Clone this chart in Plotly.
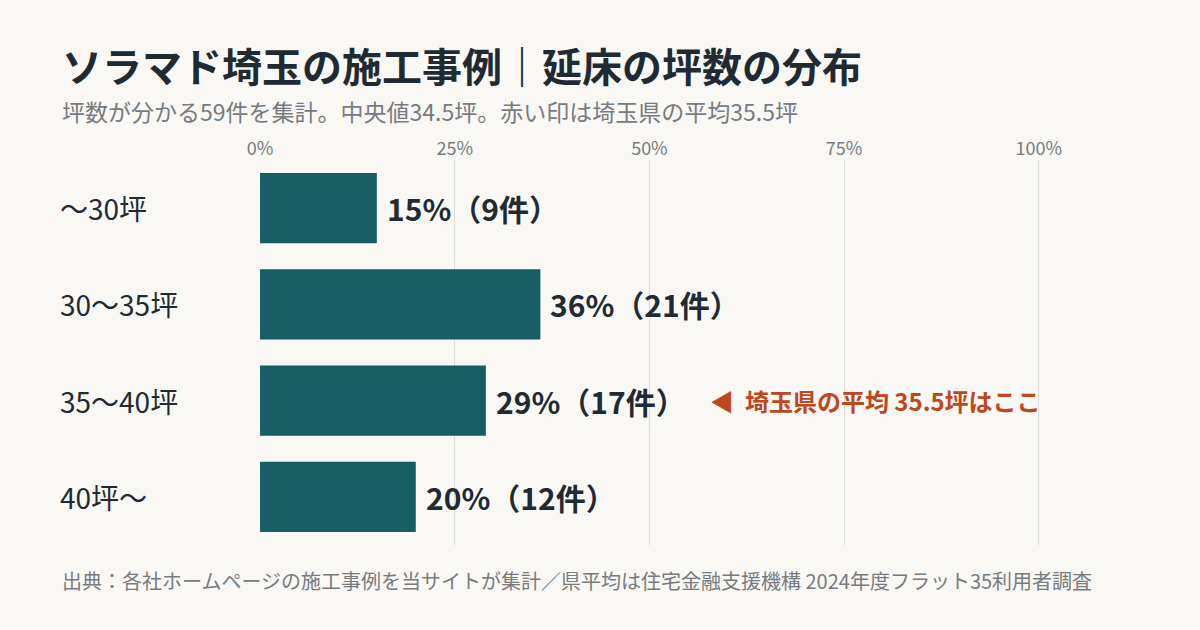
import plotly.graph_objects as go

categories = ["〜30坪", "30〜35坪", "35〜40坪", "40坪〜"]
shares = [15, 36, 29, 20]
counts = [9, 21, 17, 12]
tick_vals = [0, 25, 50, 75, 100]
tick_text = ["0%", "25%", "50%", "75%", "100%"]
marker_row = "35〜40坪"
marker_text = "◀  埼玉県の平均 35.5坪はここ"

FONT = "Noto Sans CJK JP"
BAR = "#165e63"
INK = "#1f2a33"
GRAY = "#777b80"
RED = "#c0461c"
BG = "#f9f8f5"

fig = go.Figure(go.Bar(
    x=shares, y=categories, orientation="h",
    marker=dict(color=BAR, line=dict(width=0)), width=0.73,
    hoverinfo="skip",
))

annotations = []
for cat, s, c in zip(categories, shares, counts):
    annotations.append(dict(
        x=s, y=cat, xref="x", yref="y", text=f"{s}%（{c}件）",
        showarrow=False, xanchor="left", xshift=8,
        font=dict(family=FONT, size=30, color=INK, weight="bold"),
    ))
    annotations.append(dict(
        x=-260 / 780, y=cat, xref="paper", yref="y", text=cat,
        showarrow=False, xanchor="left", xshift=58,
        font=dict(family=FONT, size=28, color=INK),
    ))
annotations.append(dict(
    x=57.5, y=marker_row, xref="x", yref="y", text=marker_text,
    showarrow=False, xanchor="left",
    font=dict(family=FONT, size=24, color=RED, weight="bold"),
))
header = [
    (60, 65, "ソラマド埼玉の施工事例｜延床の坪数の分布", dict(size=40, color=INK, weight="bold")),
    (60, 111, "坪数が分かる59件を集計。中央値34.5坪。赤い印は埼玉県の平均35.5坪", dict(size=23, color=GRAY)),
    (60, 580, "出典：各社ホームページの施工事例を当サイトが集計／県平均は住宅金融支援機構 2024年度フラット35利用者調査", dict(size=20, color=GRAY)),
]
for px_x, px_y, text, st in header:
    annotations.append(dict(
        x=(px_x - 260) / 780, y=(545 - px_y) / 385, xref="paper", yref="paper",
        text=text, showarrow=False, xanchor="left", yanchor="middle",
        font=dict(family=FONT, **st),
    ))

fig.update_layout(
    width=1200, height=630,
    margin=dict(l=260, r=160, t=160, b=85),
    paper_bgcolor=BG, plot_bgcolor=BG,
    showlegend=False,
    xaxis=dict(range=[0, 100.15], side="top", tickvals=tick_vals, ticktext=tick_text,
               showgrid=True, gridcolor="#dcdcd8", gridwidth=1, zeroline=False,
               tickfont=dict(family=FONT, size=18, color=GRAY), fixedrange=True),
    yaxis=dict(autorange="reversed", showticklabels=False, showgrid=False,
               zeroline=False, fixedrange=True),
    annotations=annotations,
)

fig.write_html("out.html", config={"displayModeBar": False},
               post_script="document.body.style.margin='0';document.body.style.background='#f9f8f5';")
